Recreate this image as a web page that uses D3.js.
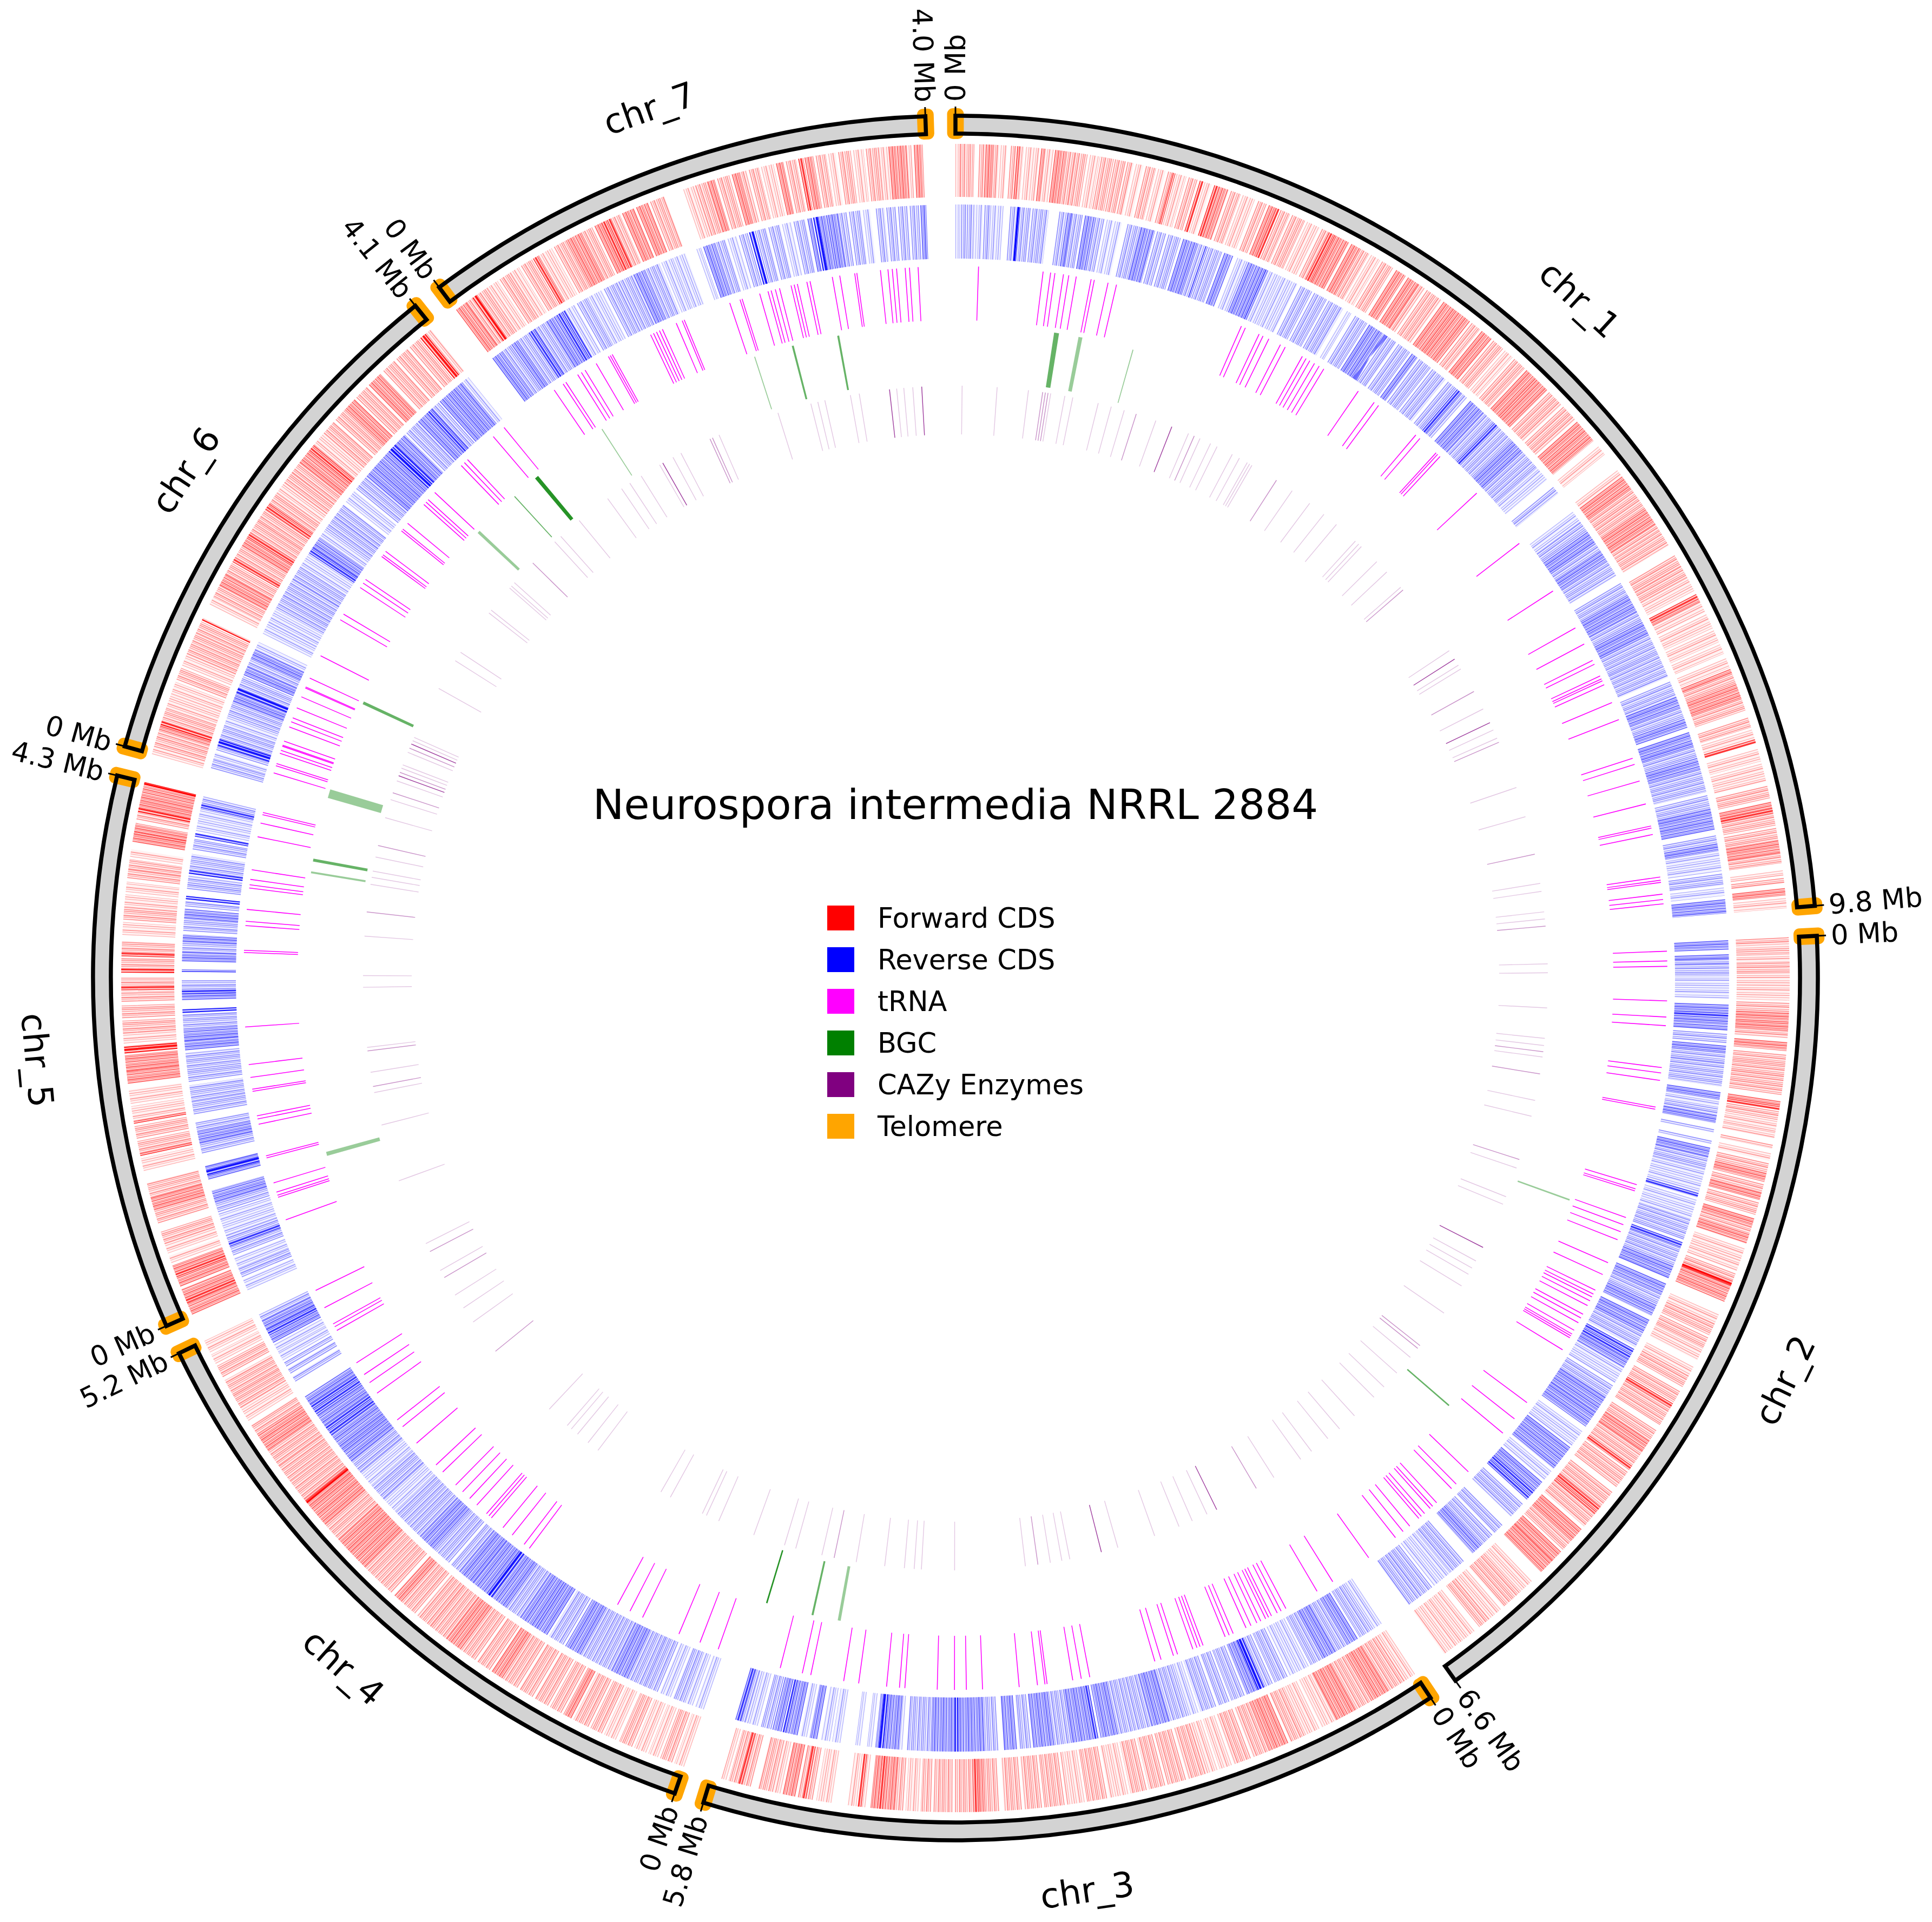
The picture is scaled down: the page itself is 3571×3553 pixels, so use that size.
<!DOCTYPE html>
<html>
<head>
<meta charset="utf-8">
<script src="https://cdn.jsdelivr.net/npm/d3@7"></script>
<style>
  body { margin: 0; background: #fff; }
  text { font-family: "DejaVu Sans", sans-serif; fill: #000; }
</style>
</head>
<body>
<div id="chart"></div>
<script>
const chromosomes = ['chr_1', 'chr_2', 'chr_3', 'chr_4', 'chr_5', 'chr_6', 'chr_7'];
const sizesMb = [9.8, 6.6, 5.8, 5.2, 4.3, 4.1, 4.0];
const legendLabels = ['Forward CDS', 'Reverse CDS', 'tRNA', 'BGC', 'CAZy Enzymes', 'Telomere'];
const legendColors = ['#ff0000', '#0000ff', '#ff00ff', '#008000', '#800080', '#ffa500'];

// telomere positions: [chromosome index, Mb]
const telomeres = [[0, 0], [0, 9.8], [1, 0], [2, 0], [2, 5.8], [3, 0], [3, 5.2], [4, 0], [4, 4.3], [5, 0], [5, 4.1], [6, 0], [6, 4.0]];

// CDS bands: [start Mb, end Mb, overlapping genes]
const forwardChr1 = [[0,.04,1],[.04,.15,2],[.19,.24,2],[.24,.3,3],[.3,.35,2],[.36,.41,1],[.44,.49,2],[.49,.51,4],[.51,.54,2],[.56,.62,1],[.62,.67,1],[.68,.71,3],[.71,.78,1],[.79,.88,3],[.88,.95,2],[.95,1.05,2],[1.07,1.15,1],[1.16,1.26,2],[1.27,1.36,2],[1.37,1.42,2],[1.44,1.5,1],[1.52,1.6,2],[1.62,1.68,1],[1.7,1.74,2],[1.74,1.76,4],[1.77,1.85,1],[1.87,1.94,2],[1.96,1.99,4],[2,2.06,1],[2.08,2.12,4],[2.12,2.2,3],[2.22,2.3,2],[2.32,2.42,1],[2.45,2.52,2],[2.54,2.6,3],[2.6,2.63,4],[2.64,2.72,2],[2.74,2.85,2],[2.87,2.98,1],[3,3.06,2],[3.06,3.12,4],[3.12,3.24,3],[3.26,3.34,3],[3.34,3.42,2],[3.44,3.52,1],[3.54,3.64,2],[3.67,3.76,3],[3.78,3.88,3],[3.88,3.94,2],[3.96,4.1,2],[4.12,4.24,3],[4.24,4.38,3],[4.4,4.48,2],[4.5,4.6,3],[4.62,4.72,2],[4.74,4.82,1],[4.84,4.95,2],[4.97,5.08,3],[5.08,5.2,3],[5.22,5.36,2],[5.38,5.52,2],[5.54,5.74,3],[5.8,5.88,1],[6.04,6.1,1],[6.1,6.22,3],[6.22,6.3,2],[6.3,6.42,2],[6.42,6.56,3],[6.56,6.62,2],[6.62,6.76,2],[6.85,6.95,2],[6.95,7.05,2],[7.05,7.17,1],[7.2,7.24,4],[7.24,7.27,3],[7.27,7.36,1],[7.38,7.5,1],[7.52,7.62,1],[7.64,7.72,1],[7.76,7.84,1],[7.85,7.89,3],[7.89,7.98,2],[7.98,8.1,3],[8.1,8.2,2],[8.26,8.34,2],[8.36,8.44,1],[8.44,8.47,4],[8.52,8.62,1],[8.64,8.78,1],[8.82,8.92,2],[8.95,9,3],[9,9.04,4],[9.04,9.14,2],[9.16,9.26,2],[9.26,9.36,3],[9.36,9.44,2],[9.5,9.54,1],[9.56,9.6,2],[9.64,9.7,3],[9.72,9.8,1]];
const reverseChr1 = [[0,.04,1],[.05,.09,2],[.1,.17,2],[.18,.24,1],[.25,.3,2],[.3,.41,1],[.47,.53,2],[.53,.55,6],[.55,.65,2],[.66,.8,2],[.89,.96,2],[.96,1,3],[1,1.09,2],[1.11,1.2,3],[1.2,1.28,2],[1.3,1.36,1],[1.37,1.43,1],[1.48,1.6,2],[1.6,1.72,3],[1.74,1.82,2],[1.84,1.95,2],[1.97,2.1,3],[2.1,2.17,2],[2.17,2.19,4],[2.2,2.32,2],[2.34,2.42,3],[2.46,2.56,1],[2.56,2.66,3],[2.66,2.72,3],[2.72,2.74,4],[2.74,2.86,1],[2.86,3.02,1],[3.05,3.16,2],[3.18,3.3,2],[3.32,3.46,2],[3.5,3.54,1],[3.58,3.7,2],[3.72,3.88,3],[3.9,4,2],[4.02,4.14,2],[4.16,4.22,3],[4.24,4.36,2],[4.38,4.52,2],[4.55,4.65,2],[4.65,4.7,4],[4.7,4.76,2],[4.8,4.95,3],[4.95,5.08,2],[5.08,5.12,4],[5.12,5.3,2],[5.3,5.42,3],[5.42,5.6,2],[5.6,5.74,1],[5.82,5.89,2],[6.09,6.2,1],[6.2,6.3,2],[6.3,6.42,3],[6.42,6.5,2],[6.5,6.6,3],[6.6,6.75,2],[6.82,6.95,2],[6.95,7.1,3],[7.1,7.2,2],[7.2,7.32,3],[7.32,7.5,2],[7.5,7.72,2],[7.76,7.9,2],[7.9,8,3],[8,8.1,2],[8.1,8.18,3],[8.22,8.35,3],[8.35,8.45,2],[8.45,8.55,3],[8.55,8.75,2],[8.78,8.9,2],[8.9,9.08,3],[9.13,9.2,2],[9.2,9.26,3],[9.26,9.44,1],[9.46,9.56,2],[9.58,9.65,1],[9.68,9.8,3]];
const forwardChr2 = [[0,.05,2],[.05,.1,1],[.1,.13,2],[.13,.2,1],[.2,.28,2],[.28,.38,1],[.38,.5,1],[.52,.6,2],[.6,.68,3],[.68,.74,3],[.74,.8,2],[.83,.9,3],[.93,1.02,2],[1.02,1.1,2],[1.1,1.18,2],[1.18,1.25,2],[1.3,1.34,3],[1.34,1.37,4],[1.38,1.45,2],[1.46,1.55,1],[1.55,1.6,1],[1.65,1.68,2],[1.72,1.78,1],[1.8,1.88,2],[1.88,1.95,3],[1.97,2.04,2],[2.04,2.1,3],[2.12,2.22,2],[2.25,2.32,3],[2.32,2.38,2],[2.38,2.46,3],[2.5,2.6,1],[2.6,2.69,1],[2.71,2.77,2],[2.77,2.79,3],[2.79,2.81,6],[2.81,2.95,3],[3.06,3.14,1],[3.14,3.24,2],[3.26,3.35,2],[3.35,3.46,1],[3.52,3.6,1],[3.6,3.7,2],[3.74,3.84,2],[3.85,3.89,4],[3.89,4.05,2],[4.1,4.2,2],[4.2,4.3,3],[4.3,4.44,2],[4.44,4.48,4],[4.5,4.65,2],[4.7,4.85,2],[4.85,4.92,4],[4.92,5.05,2],[5.08,5.2,3],[5.2,5.3,2],[5.32,5.42,3],[5.42,5.55,3],[5.65,5.78,1],[5.78,5.95,2],[5.98,6.1,1],[6.1,6.2,2],[6.25,6.4,1],[6.4,6.55,1]];
const reverseChr2 = [[0,.08,3],[.12,.16,3],[.16,.2,2],[.2,.3,2],[.3,.5,1],[.55,.62,3],[.62,.66,4],[.66,.77,3],[.8,.88,2],[.9,.96,3],[.96,1.05,2],[1.05,1.25,2],[1.3,1.36,3],[1.36,1.44,1],[1.44,1.5,2],[1.5,1.57,3],[1.62,1.65,2],[1.72,1.75,2],[1.78,1.86,3],[1.86,1.97,2],[1.97,2.18,1],[2.18,2.22,4],[2.24,2.42,1],[2.42,2.6,2],[2.62,2.67,4],[2.67,2.84,2],[2.84,2.95,3],[3,3.1,3],[3.1,3.2,2],[3.2,3.3,3],[3.34,3.46,3],[3.46,3.6,2],[3.62,3.72,4],[3.72,3.8,3],[3.8,3.95,1],[3.98,4.1,2],[4.1,4.25,3],[4.25,4.4,3],[4.45,4.6,1],[4.62,4.72,3],[4.72,4.85,3],[4.88,4.98,1],[5,5.1,3],[5.1,5.2,4],[5.25,5.4,2],[5.5,5.6,2],[5.62,5.75,2],[5.75,5.85,3],[5.95,6.1,2],[6.1,6.28,1],[6.3,6.42,2],[6.42,6.55,2]];
const forwardChr3 = [[0,.1,1],[.1,.25,2],[.25,.4,3],[.4,.55,2],[.55,.72,3],[.72,.85,1],[.87,1,1],[1,1.12,2],[1.14,1.3,3],[1.3,1.44,2],[1.46,1.6,2],[1.62,1.72,1],[1.74,1.84,1],[1.84,1.98,2],[2,2.15,2],[2.17,2.3,2],[2.32,2.45,2],[2.47,2.62,1],[2.64,2.8,2],[2.82,2.96,1],[2.98,3.14,2],[3.16,3.3,2],[3.32,3.46,2],[3.5,3.62,2],[3.62,3.66,3],[3.66,3.7,4],[3.7,3.85,2],[3.87,4.02,2],[4.04,4.12,2],[4.14,4.24,1],[4.26,4.33,2],[4.33,4.42,3],[4.42,4.46,4],[4.46,4.52,3],[4.56,4.59,1],[4.59,4.62,4],[4.63,4.7,1],[4.83,4.95,1],[4.98,5.03,2],[5.03,5.06,4],[5.06,5.1,2],[5.12,5.22,3],[5.24,5.3,1],[5.3,5.42,2],[5.48,5.55,2],[5.55,5.58,4],[5.58,5.66,2],[5.68,5.72,1]];
const reverseChr3 = [[0,.1,1],[.1,.22,2],[.24,.34,3],[.34,.46,2],[.46,.58,3],[.58,.7,2],[.72,.9,1],[.92,1.04,2],[1.06,1.14,2],[1.14,1.2,5],[1.2,1.3,3],[1.32,1.44,2],[1.46,1.56,2],[1.58,1.72,2],[1.74,1.84,1],[1.84,2,2],[2,2.15,3],[2.15,2.3,2],[2.3,2.45,2],[2.45,2.6,3],[2.62,2.66,4],[2.66,2.85,3],[2.85,3,2],[3,3.18,3],[3.2,3.3,2],[3.32,3.43,3],[3.48,3.6,2],[3.6,3.7,3],[3.7,3.82,3],[3.82,3.85,5],[3.85,4.05,3],[4.05,4.26,2],[4.3,4.33,1],[4.33,4.46,3],[4.46,4.5,5],[4.5,4.53,3],[4.56,4.6,1],[4.66,4.7,1],[4.83,4.9,1],[4.92,5,1],[5.03,5.1,3],[5.12,5.18,1],[5.2,5.3,3],[5.3,5.33,4],[5.34,5.42,3],[5.43,5.52,2],[5.55,5.66,1],[5.66,5.7,2],[5.7,5.75,4]];
const forwardChr4 = [[0,.08,1],[.1,.2,2],[.22,.3,1],[.32,.42,1],[.44,.55,2],[.58,.68,1],[.7,.8,2],[.82,.95,2],[.97,1.04,3],[1.06,1.16,2],[1.18,1.3,2],[1.32,1.44,2],[1.46,1.6,2],[1.6,1.7,3],[1.72,1.84,2],[1.86,2,2],[2,2.14,3],[2.14,2.3,2],[2.3,2.44,2],[2.46,2.6,2],[2.6,2.68,3],[2.71,2.85,2],[2.85,3,2],[3,3.16,3],[3.16,3.3,3],[3.3,3.46,2],[3.46,3.65,3],[3.65,3.68,3],[3.68,3.7,6],[3.7,3.72,3],[3.72,3.9,2],[3.9,4.05,2],[4.05,4.2,2],[4.2,4.35,3],[4.35,4.44,2],[4.48,4.6,1],[4.6,4.72,2],[4.72,4.85,2],[4.88,4.98,2],[5,5.08,1],[5.1,5.2,1]];
const reverseChr4 = [[0,.08,1],[.1,.18,1],[.18,.28,2],[.3,.4,1],[.42,.55,2],[.55,.7,2],[.7,.85,3],[.85,1,2],[1,1.15,2],[1.15,1.3,3],[1.32,1.46,2],[1.48,1.6,3],[1.6,1.75,3],[1.75,1.9,2],[1.9,2.05,3],[2.05,2.1,5],[2.1,2.25,3],[2.25,2.4,3],[2.4,2.5,2],[2.52,2.7,2],[2.7,2.85,3],[2.85,3,2],[3,3.15,2],[3.15,3.3,1],[3.3,3.45,2],[3.45,3.6,1],[3.6,3.72,2],[3.72,3.85,3],[3.85,4,3],[4,4.1,4],[4.1,4.22,3],[4.22,4.32,4],[4.32,4.4,3],[4.55,4.6,2],[4.63,4.68,2],[4.7,4.74,2],[4.76,4.84,1],[4.84,4.92,1],[4.93,5,3],[5,5.06,4],[5.06,5.14,3],[5.14,5.2,2]];
const forwardChr5 = [[0,.1,3],[.1,.14,4],[.14,.22,3],[.24,.32,3],[.32,.36,4],[.36,.42,3],[.44,.5,1],[.52,.6,1],[.6,.7,2],[.77,.88,2],[.88,.98,3],[.98,1.1,2],[1.2,1.3,1],[1.32,1.34,4],[1.34,1.44,2],[1.46,1.56,2],[1.58,1.6,4],[1.6,1.72,1],[1.74,1.85,1],[1.9,2,3],[2,2.13,3],[2.14,2.2,5],[2.22,2.3,1],[2.3,2.4,2],[2.42,2.52,2],[2.55,2.63,2],[2.64,2.67,4],[2.67,2.74,2],[2.78,2.81,5],[2.81,2.9,2],[2.91,2.94,4],[2.94,3.03,2],[3.08,3.18,1],[3.2,3.3,2],[3.3,3.4,1],[3.42,3.5,1],[3.53,3.6,2],[3.6,3.68,2],[3.7,3.76,1],[3.82,3.88,3],[3.88,3.9,4],[3.9,3.97,3],[4,4.06,2],[4.06,4.09,5],[4.09,4.15,3],[4.15,4.28,3],[4.28,4.3,6]];
const reverseChr5 = [[0,.1,1],[.12,.2,2],[.2,.3,1],[.32,.4,2],[.4,.44,4],[.44,.5,2],[.5,.7,1],[.71,.8,2],[.8,.9,3],[1,1.04,3],[1.04,1.08,5],[1.08,1.12,3],[1.23,1.32,2],[1.32,1.42,3],[1.42,1.5,2],[1.57,1.68,2],[1.68,1.82,2],[1.85,1.95,2],[1.95,2.1,2],[2.12,2.2,3],[2.2,2.3,3],[2.3,2.43,2],[2.44,2.47,5],[2.55,2.6,3],[2.6,2.64,4],[2.64,2.72,2],[2.79,2.81,4],[2.88,2.96,3],[2.96,3.05,2],[3.05,3.11,3],[3.14,3.25,2],[3.25,3.33,3],[3.35,3.4,2],[3.41,3.44,5],[3.5,3.55,2],[3.55,3.62,2],[3.63,3.66,5],[3.66,3.8,2],[3.84,3.93,2],[3.95,3.98,4],[4,4.2,1],[4.2,4.24,4],[4.24,4.3,2]];
const forwardChr6 = [[0,.06,1],[.06,.14,2],[.14,.2,2],[.2,.24,3],[.24,.27,5],[.27,.38,2],[.38,.5,1],[.5,.6,1],[.62,.72,2],[.74,.84,1],[.84,.92,2],[.92,1.02,2],[1.02,1.12,2],[1.13,1.15,5],[1.27,1.34,1],[1.34,1.44,2],[1.44,1.54,3],[1.54,1.64,2],[1.65,1.69,4],[1.69,1.8,2],[1.8,1.88,3],[1.88,1.92,4],[1.92,2.04,2],[2.04,2.14,2],[2.14,2.2,4],[2.2,2.3,2],[2.3,2.4,1],[2.4,2.5,2],[2.5,2.6,2],[2.6,2.72,3],[2.72,2.78,4],[2.78,2.9,1],[2.9,3.02,2],[3.04,3.16,2],[3.16,3.26,3],[3.28,3.4,2],[3.42,3.55,3],[3.58,3.7,2],[3.72,3.84,2],[3.86,3.96,2],[3.97,4.03,5],[4.03,4.08,1]];
const reverseChr6 = [[.02,.1,2],[.1,.16,1],[.18,.22,2],[.22,.28,5],[.28,.4,2],[.4,.5,1],[.5,.62,2],[.62,.7,3],[.7,.74,5],[.74,.85,2],[.86,.94,3],[.94,1.02,2],[1.02,1.1,3],[1.1,1.17,1],[1.25,1.36,1],[1.36,1.5,1],[1.5,1.62,2],[1.62,1.78,2],[1.78,1.9,2],[1.9,2.04,1],[2.04,2.1,4],[2.1,2.2,3],[2.2,2.3,1],[2.3,2.42,2],[2.42,2.55,2],[2.58,2.7,1],[2.72,2.86,2],[2.86,3,3],[3,3.14,3],[3.14,3.22,5],[3.22,3.34,3],[3.36,3.5,2],[3.5,3.6,3],[3.6,3.66,4],[3.66,3.74,2],[3.75,3.88,3],[3.88,4,3],[4,4.07,1]];
const forwardChr7 = [[0,.1,3],[.1,.16,2],[.16,.2,5],[.2,.3,2],[.3,.4,1],[.42,.52,2],[.52,.6,1],[.62,.72,2],[.73,.78,4],[.78,.9,1],[.92,1.04,2],[1.04,1.16,3],[1.16,1.26,2],[1.28,1.34,3],[1.34,1.42,4],[1.42,1.5,2],[1.52,1.62,3],[1.64,1.74,3],[1.76,1.88,2],[2.04,2.14,1],[2.14,2.24,2],[2.24,2.3,3],[2.32,2.42,2],[2.44,2.5,3],[2.5,2.56,2],[2.58,2.66,2],[2.68,2.78,1],[2.8,2.86,3],[2.88,2.96,2],[2.98,3.02,4],[3.03,3.1,3],[3.12,3.2,2],[3.22,3.28,1],[3.3,3.4,2],[3.42,3.5,1],[3.52,3.62,2],[3.62,3.7,1],[3.7,3.84,3],[3.84,3.88,1],[3.9,3.97,3]];
const reverseChr7 = [[0,.1,3],[.1,.2,2],[.2,.26,3],[.26,.38,2],[.38,.44,4],[.44,.56,2],[.56,.66,3],[.66,.74,4],[.74,.84,1],[.86,.96,2],[.96,1.1,1],[1.12,1.26,2],[1.26,1.4,2],[1.4,1.5,3],[1.5,1.64,2],[1.66,1.76,1],[1.76,1.88,1],[1.98,2.02,1],[2.04,2.14,3],[2.14,2.24,2],[2.26,2.34,1],[2.36,2.44,2],[2.45,2.49,5],[2.5,2.6,2],[2.62,2.72,2],[2.74,2.82,1],[2.84,2.94,2],[2.96,3,3],[3.01,3.05,5],[3.05,3.14,3],[3.14,3.22,3],[3.22,3.3,2],[3.32,3.42,2],[3.44,3.5,1],[3.55,3.62,2],[3.64,3.72,2],[3.74,3.82,2],[3.84,3.92,2],[3.93,3.98,3]];

// tRNA positions in Mb
const trnaChr1 = [.21,.81,.88,.92,1,1.05,1.12,1.26,1.29,1.42,1.5,2.72,2.76,2.9,2.94,3,3.12,3.17,3.35,3.39,3.43,3.48,3.53,3.58,3.96,4.14,4.19,4.63,4.68,4.88,4.9,4.93,5.41,6.02,6.56,6.96,7.13,7.3,7.34,7.46,7.49,7.51,7.55,7.73,7.9,8.28,8.34,8.5,8.72,8.93,8.95,9.01,9.41,9.44,9.46,9.57,9.62,9.66];
const trnaChr2 = [.07,.16,.21,.53,.68,.76,1.15,1.2,1.27,1.52,1.54,2.26,2.3,2.32,2.58,2.65,2.72,2.8,3.03,3.15,3.31,3.35,3.38,3.42,3.47,3.56,3.6,3.65,3.73,3.77,3.79,3.81,3.94,4.53,4.72,4.89,5.37,5.53,5.59,5.78,5.83,5.86,5.93,5.97,6,6.11,6.19,6.28,6.59];
const trnaChr3 = [.16,.33,.66,.71,.75,.81,.84,.87,.92,.96,1.02,1.07,1.2,1.24,1.28,1.5,1.53,1.56,1.6,1.75,1.79,1.91,1.97,2.59,2.67,2.75,2.99,3.01,3.08,3.25,3.59,3.74,3.85,4.01,4.31,4.36,4.48,4.74,4.88,5.19,5.27,5.48];
const trnaChr4 = [.05,.23,.44,.81,.94,1.07,2.04,2.1,2.24,2.35,2.49,2.52,2.55,2.67,2.76,2.85,2.94,3.11,3.2,3.47,3.67,3.75,4.06,4.18,4.27,4.4,4.75,4.79,4.82,4.99,5.17];
const trnaChr5 = [.45,.67,.69,.72,.81,1.05,1.07,1.37,1.42,1.45,1.68,1.7,1.81,1.93,2.28,2.97,2.99,3.22,3.26,3.37,3.57,3.6,3.65,3.74,4.05,4.18,4.26,4.28];
const trnaChr6 = [.13,.2,.22,.32,.39,.35,.4,.44,.58,.63,.67,.77,.88,.97,.98,1.07,1.3,1.68,1.74,2.03,2.08,2.12,2.38,2.4,2.44,2.68,2.7,2.77,3,3.03,3.06,3.15,3.5,3.54,3.58,3.9,4.03];
const trnaChr7 = [.28,.38,.41,.54,.58,.62,.74,.87,.89,.91,1.31,1.34,1.37,1.4,1.43,1.57,1.63,1.65,2.1,2.2,2.22,2.39,2.47,2.5,2.54,2.58,2.69,2.72,2.75,2.84,2.87,3.08,3.15,3.29,3.31,3.53,3.6,3.64,3.68,3.76,3.8,3.88];

// BGC regions: [start Mb, end Mb, overlapping clusters]
const bgcChr1 = [[1,1.05,2],[1.25,1.29,1],[1.81,1.82,1]];
const bgcChr2 = [[2.6,2.615,1],[5.02,5.035,2]];
const bgcChr3 = [[5.01,5.04,1],[5.29,5.31,2],[5.77,5.785,3]];
const bgcChr4 = [];
const bgcChr5 = [[.92,.96,1],[3.8,3.82,1],[3.92,3.95,2]];
const bgcChr6 = [[.05,.14,1],[1.06,1.09,2],[3.15,3.18,1],[3.67,3.68,2],[3.95,3.99,3]];
const bgcChr7 = [[.455,.465,1],[2.165,2.175,1],[2.56,2.58,2],[3.03,3.05,2]];

// CAZy positions: [Mb, overlapping genes]
const cazyChr1 = [[.07,1],[.46,1],[.81,1],[.97,2],[1,2],[1.03,2],[1.06,1],[1.22,1],[1.31,1],[1.6,1],[1.75,1],[1.9,1],[2.04,2],[2.27,1],[2.46,3],[2.66,1],[2.73,2],[2.8,1],[2.93,1],[3.01,1],[3.2,1],[3.29,1],[3.39,1],[3.42,1],[3.45,1],[3.77,2],[3.98,1],[4.22,1],[4.42,1],[4.6,1],[4.88,1],[4.93,1],[4.97,1],[5.21,1],[5.37,1],[5.6,1],[5.64,2],[6.49,1],[6.6,3],[6.68,1],[6.73,1],[7.02,2],[7.24,1],[7.41,3],[7.5,1],[7.6,1],[7.65,2],[8.19,1],[8.53,1],[8.96,2],[9.29,1],[9.38,1],[9.61,1],[9.69,1],[9.77,2]];
const cazyChr2 = [[.16,1],[.26,1],[.65,1],[.99,1],[1.07,1],[1.14,2],[1.2,1],[1.39,2],[1.69,1],[1.87,1],[2.37,2],[2.47,1],[2.81,1],[2.9,1],[3.43,3],[3.6,1],[3.69,1],[3.77,1],[3.92,1],[4.28,1],[4.73,2],[4.77,2],[4.9,1],[5.13,1],[5.34,1],[5.5,1],[5.8,1],[6.02,1],[6.19,1],[6.42,1],[6.57,1]];
const cazyChr3 = [[.1,1],[.33,2],[.83,3],[.95,1],[1.13,1],[1.29,1],[1.58,1],[2.01,1],[2.2,3],[2.56,1],[2.65,1],[2.78,1],[2.92,2],[3.06,1],[3.85,1],[4.22,1],[4.3,1],[4.41,1],[4.63,1],[4.95,1],[5.2,2],[5.34,1],[5.64,1],[5.77,1]];
const cazyChr4 = [[.1,1],[.52,1],[.67,1],[.72,1],[1.12,1],[1.24,1],[2.08,1],[2.22,1],[2.37,1],[2.46,1],[2.52,1],[2.79,1],[3.67,2],[4.08,1],[4.27,1],[4.44,1],[4.67,2],[4.76,1],[5,2],[5.1,1]];
const cazyChr5 = [[.43,1],[1.08,1],[1.45,1],[1.52,2],[1.68,1],[1.92,2],[1.96,1],[2.63,1],[2.76,1],[3.2,1],[3.47,2],[3.78,1],[3.86,1],[3.93,1],[4.09,1],[4.22,2]];
const cazyChr6 = [[.01,1],[.22,1],[.3,2],[.44,1],[.5,3],[.54,2],[.59,1],[.63,1],[.78,1],[.83,2],[.88,3],[.92,1],[.96,1],[1.57,1],[1.93,1],[2.04,1],[2.58,1],[2.62,1],[2.94,1],[2.97,1],[3.02,1],[3.32,2],[3.66,1],[3.75,1],[4.02,1]];
const cazyChr7 = [[.09,1],[.28,1],[.39,1],[.54,1],[.78,1],[.82,3],[.95,1],[1.05,1],[1.41,2],[1.44,2],[1.52,1],[2.22,1],[2.6,1],[2.68,1],[2.76,1],[3.05,1],[3.15,1],[3.49,3],[3.57,1],[3.65,1],[3.75,1],[3.85,3]];

const forwardCds = [forwardChr1, forwardChr2, forwardChr3, forwardChr4, forwardChr5, forwardChr6, forwardChr7];
const reverseCds = [reverseChr1, reverseChr2, reverseChr3, reverseChr4, reverseChr5, reverseChr6, reverseChr7];
const trna = [trnaChr1, trnaChr2, trnaChr3, trnaChr4, trnaChr5, trnaChr6, trnaChr7];
const bgc = [bgcChr1, bgcChr2, bgcChr3, bgcChr4, bgcChr5, bgcChr6, bgcChr7];
const cazy = [cazyChr1, cazyChr2, cazyChr3, cazyChr4, cazyChr5, cazyChr6, cazyChr7];

const width = 3571;
const height = 3553;
const cx = 1766;
const cy = 1808;
const gapDeg = 2;

const svg = d3.select('#chart').append('svg')
  .attr('width', width)
  .attr('height', height)
  .style('display', 'block');

const plot = svg.append('g').attr('transform', `translate(${cx},${cy})`);

// one angle scale per chromosome, Mb -> radians clockwise from the top
const degPerMb = (360 - gapDeg * sizesMb.length) / d3.sum(sizesMb);
let cursor = 0;
const angle = sizesMb.map(size => {
  const start = cursor;
  const end = start + size * degPerMb;
  cursor = end + gapDeg;
  return d3.scaleLinear().domain([0, size]).range([start, end].map(d => d * Math.PI / 180));
});

const arc = d3.arc();

function band(g, rows, inner, outer, color, opacity) {
  rows.forEach((list, i) => {
    g.append('g').selectAll('path')
      .data(list)
      .join('path')
      .attr('d', d => arc({
        innerRadius: inner,
        outerRadius: outer,
        startAngle: angle[i](d[0]),
        endAngle: angle[i](d[1]),
      }))
      .attr('fill', color)
      .attr('fill-opacity', opacity);
  });
}

// CDS bands: a pale tint with a fine striped stroke on top, the stripes are only a line style
const tint = d3.scaleOrdinal([1, 2, 3, 4, 5, 6], [.05, .08, .12, .18, .2, .3]);
const stripeAlpha = d3.scaleOrdinal([1, 2, 3, 4, 5, 6], [.34, .42, .52, .75, .9, 1]);
const stripeDash = d3.scaleOrdinal([1, 2, 3, 4, 5, 6], [
  '1 3.5 1 2 2 4.5 1 2.5 1.5 3',
  '1.5 2.5 1 1.5 2 3 1 2 1.5 1.5',
  '2 1.5 1 1 2.5 1.5 1.5 1 1 2',
  '1.5 2 3 2 1 1.5',
  '2 2.5 4 1.5',
  '3 .5',
]);

function cdsTrack(g, rows, inner, outer, color) {
  band(g, rows, inner, outer, color, d => tint(d[2]));
  const mid = (inner + outer) / 2;
  rows.forEach((list, i) => {
    g.append('g').selectAll('path')
      .data(list)
      .join('path')
      .attr('d', d => {
        const p = d3.path();
        p.arc(0, 0, mid, angle[i](d[0]) - Math.PI / 2, angle[i](d[1]) - Math.PI / 2);
        return p.toString();
      })
      .attr('fill', 'none')
      .attr('stroke', color)
      .attr('stroke-width', outer - inner)
      .attr('stroke-opacity', d => stripeAlpha(d[2]))
      .attr('stroke-dasharray', d => stripeDash(d[2]));
  });
}

const tracks = plot.append('g');
cdsTrack(tracks, forwardCds, 1444, 1542, '#ff0000');
cdsTrack(tracks, reverseCds, 1330, 1430, '#0000ff');
band(tracks, trna.map(l => l.map(p => [p, p + .008])), 1216, 1316, '#ff00ff', 1);
band(tracks, bgc, 1105, 1207, '#008000', d => d[2] === 3 ? .85 : d[2] === 2 ? .6 : .4);
band(tracks, cazy.map(l => l.map(d => [d[0], d[0] + .009, d[1]])), 1005, 1095, '#800080', d => d[2] === 3 ? .75 : d[2] === 2 ? .42 : .22);

// chromosome ring
const ringOuter = 1594;
const ringInner = 1561;
const ringArc = i => arc({
  innerRadius: ringInner,
  outerRadius: ringOuter,
  startAngle: angle[i].range()[0],
  endAngle: angle[i].range()[1],
});

plot.append('g').selectAll('path')
  .data(chromosomes)
  .join('path')
  .attr('d', (_, i) => ringArc(i))
  .attr('fill', '#d3d3d3');

plot.append('g').selectAll('path')
  .data(telomeres)
  .join('path')
  .attr('d', d => {
    const a = angle[d[0]](d[1]);
    return arc({ innerRadius: 1562, outerRadius: 1597, startAngle: a - .0028, endAngle: a + .0028 });
  })
  .attr('fill', '#ffa500')
  .attr('stroke', '#ffa500')
  .attr('stroke-width', 22)
  .attr('stroke-linejoin', 'round');

plot.append('g').selectAll('path')
  .data(chromosomes)
  .join('path')
  .attr('d', (_, i) => ringArc(i))
  .attr('fill', 'none')
  .attr('stroke', '#000')
  .attr('stroke-width', 7.5)
  .attr('stroke-linejoin', 'miter');

// start and end ticks with their labels
const ticks = [];
sizesMb.forEach((size, i) => {
  ticks.push({ a: angle[i](0), label: '0 Mb' });
  ticks.push({ a: angle[i](size), label: `${size.toFixed(1)} Mb` });
});
const point = (a, r) => [r * Math.sin(a), -r * Math.cos(a)];

plot.append('g').selectAll('line')
  .data(ticks)
  .join('line')
  .attr('x1', d => point(d.a, ringOuter)[0])
  .attr('y1', d => point(d.a, ringOuter)[1])
  .attr('x2', d => point(d.a, 1611)[0])
  .attr('y2', d => point(d.a, 1611)[1])
  .attr('stroke', '#000')
  .attr('stroke-width', 3);

plot.append('g').selectAll('text')
  .data(ticks)
  .join('text')
  .attr('transform', d => {
    const deg = d.a * 180 / Math.PI;
    const [x, y] = point(d.a, 1620);
    return `translate(${x},${y}) rotate(${deg < 180 ? deg - 90 : deg + 90})`;
  })
  .attr('text-anchor', d => d.a < Math.PI ? 'start' : 'end')
  .attr('dominant-baseline', 'central')
  .style('font-size', '51px')
  .text(d => d.label);

// chromosome names
plot.append('g').selectAll('text')
  .data(chromosomes)
  .join('text')
  .attr('transform', (_, i) => {
    const a = (angle[i].range()[0] + angle[i].range()[1]) / 2;
    const deg = a * 180 / Math.PI;
    const [x, y] = point(a, 1704);
    return `translate(${x},${y}) rotate(${deg > 90 && deg < 270 ? deg - 180 : deg})`;
  })
  .attr('text-anchor', 'middle')
  .attr('dominant-baseline', 'central')
  .style('font-size', '64px')
  .text(d => d);

svg.append('text')
  .attr('x', cx)
  .attr('y', 1514)
  .attr('text-anchor', 'middle')
  .style('font-size', '77px')
  .text('Neurospora intermedia NRRL 2884');

const legend = svg.append('g');
const legendY = d3.scalePoint().domain(legendLabels).range([1697, 2082]);
legend.selectAll('rect')
  .data(legendLabels)
  .join('rect')
  .attr('x', 1529)
  .attr('y', d => legendY(d) - 23)
  .attr('width', 50)
  .attr('height', 46)
  .attr('fill', (_, i) => legendColors[i]);
legend.selectAll('text')
  .data(legendLabels)
  .join('text')
  .attr('x', 1622)
  .attr('y', d => legendY(d))
  .attr('dominant-baseline', 'central')
  .style('font-size', '51px')
  .text(d => d);
</script>
</body>
</html>
